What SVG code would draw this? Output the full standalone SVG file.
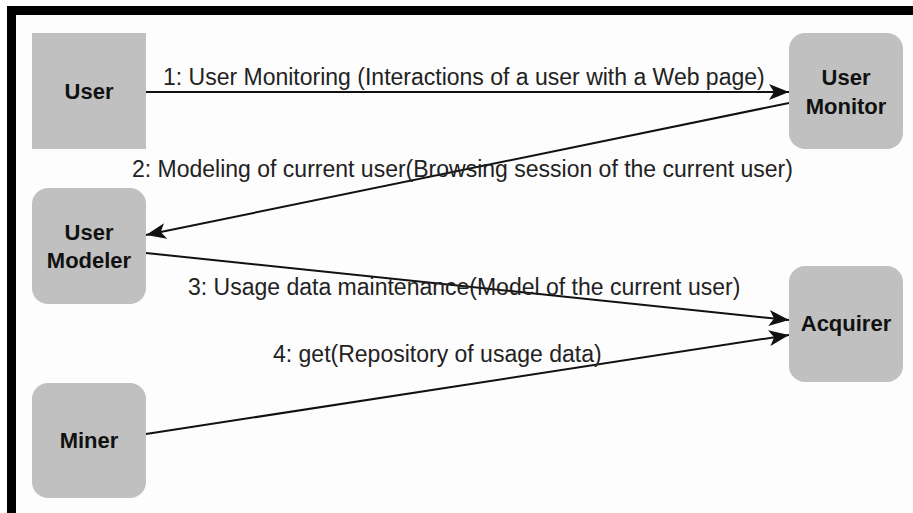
<svg xmlns="http://www.w3.org/2000/svg" width="913" height="513" viewBox="0 0 913 513">
<style>
.node{fill:#c0c0c0;}
.nt{font-family:"Liberation Sans",Arial,sans-serif;font-weight:bold;font-size:22px;fill:#111;text-anchor:middle;}
.lbl{font-family:"Liberation Sans",Arial,sans-serif;font-size:23px;fill:#222;}
.edge{stroke:#111;stroke-width:2;fill:none;marker-end:url(#ah);}
</style>
<defs>
<marker id="ah" markerUnits="userSpaceOnUse" viewBox="-1 -9 23 18" refX="20" refY="0" markerWidth="23" markerHeight="18" orient="auto">
<path d="M0,-8 L20,0 L0,8 L5,0 z" fill="#111"/>
</marker>
</defs>
<rect x="0" y="0" width="913" height="513" fill="#ffffff"/>
<rect x="7" y="6" width="920" height="520" fill="#000000"/>
<rect x="16" y="15" width="910" height="510" fill="#fdfdfd"/>
<g id="connectors">
<line class="edge" x1="146" y1="92" x2="789" y2="92"/>
<line class="edge" x1="789" y1="103" x2="146" y2="235"/>
<line class="edge" x1="146" y1="253" x2="789" y2="320"/>
<line class="edge" x1="146" y1="434" x2="789" y2="335"/>
<text class="lbl" x="163" y="85">1: User Monitoring (Interactions of a user with a Web page)</text>
<text class="lbl" x="132" y="177">2: Modeling of current user(Browsing session of the current user)</text>
<text class="lbl" x="188" y="295">3: Usage data maintenance(Model of the current user)</text>
<text class="lbl" x="273" y="362">4: get(Repository of usage data)</text>
</g>
<g id="user">
<rect class="node" x="32" y="33" width="114" height="116"/>
<text class="nt" x="89" y="99">User</text>
</g>
<g id="user-monitor">
<rect class="node" x="789" y="33" width="114" height="116" rx="16" ry="16"/>
<text class="nt" x="846" y="85">User</text>
<text class="nt" x="846" y="114">Monitor</text>
</g>
<g id="user-modeler">
<rect class="node" x="32" y="188" width="114" height="116" rx="16" ry="16"/>
<text class="nt" x="89" y="240">User</text>
<text class="nt" x="89" y="268">Modeler</text>
</g>
<g id="acquirer">
<rect class="node" x="789" y="266" width="114" height="116" rx="16" ry="16"/>
<text class="nt" x="846" y="331">Acquirer</text>
</g>
<g id="miner">
<rect class="node" x="32" y="383" width="114" height="115" rx="16" ry="16"/>
<text class="nt" x="89" y="448">Miner</text>
</g>
</svg>
